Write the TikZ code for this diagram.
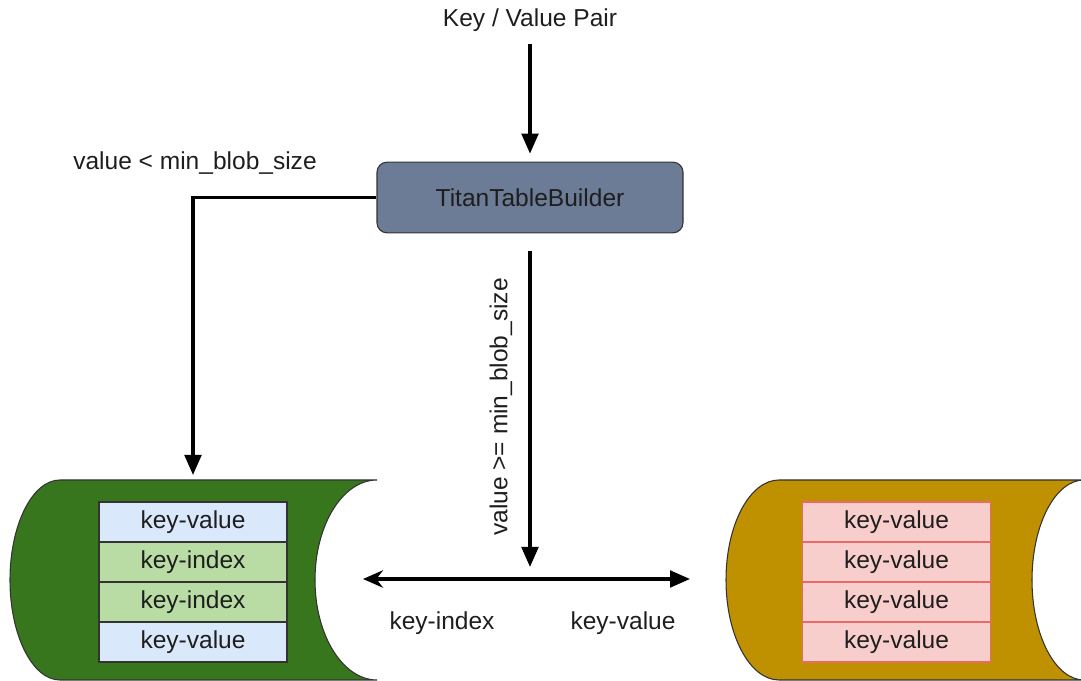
\documentclass[tikz,border=0pt]{standalone}
\usepackage{fontspec}
\setmainfont{Liberation Sans}
\usepackage{tikz}
\usetikzlibrary{arrows.meta, positioning}
\definecolor{buildfill}{RGB}{108,123,150}
\definecolor{cylgreen}{RGB}{56,118,29}
\definecolor{cylgold}{RGB}{191,144,0}
\definecolor{kvblue}{RGB}{218,232,252}
\definecolor{kigreen}{RGB}{185,220,165}
\definecolor{kvred}{RGB}{248,206,204}
\definecolor{kvredline}{RGB}{234,107,102}
\definecolor{edgegray}{RGB}{51,51,51}
\definecolor{textgray}{RGB}{30,30,30}
\tikzstyle{arrow} = [-{Triangle[length=15pt,width=12.5pt]}, line width=2.4pt, draw=black]
\tikzstyle{cell} = [draw=edgegray, line width=0.8pt, minimum width=141pt, minimum height=30pt, inner sep=0pt, outer sep=0pt]

\begin{document}
\begin{tikzpicture}[x=0.75pt, y=0.75pt, font=\fontsize{18.4}{22}\selectfont, text=textgray]
    \useasboundingbox (0,0) rectangle (1081,681);
    % storage files
    \draw[fill=cylgreen, draw=edgegray, line width=0.8pt] (60,201) -- (377,201)
    arc[start angle=90, end angle=270, x radius=46.5pt, y radius=75pt]
    -- (60,1) arc[start angle=270, end angle=90, x radius=37.5pt, y radius=75pt] -- cycle;
    \draw[fill=cylgold, draw=edgegray, line width=0.8pt] (779,201) -- (1084,201)
    arc[start angle=90, end angle=270, x radius=39pt, y radius=75pt]
    -- (779,1) arc[start angle=270, end angle=90, x radius=39.75pt, y radius=75pt] -- cycle;
    \foreach \s/\t [count=\i] in {kvblue/key-value, kigreen/key-index, kigreen/key-index, kvblue/key-value}
        \node[cell, fill=\s] (lrow\i) at (193,199-40*\i) {\t};
    \foreach \i in {1,...,4}
        \node[cell, fill=kvred, draw=kvredline] (rrow\i) at (896.5,199-40*\i) {key-value};
    % builder
    \node (kvp) at (530,661) {Key / Value Pair};
    \node[draw=edgegray, line width=0.8pt, fill=buildfill, rounded corners=7.5pt,
        minimum width=229.5pt, minimum height=53pt] (tb) at (530,483.5) {TitanTableBuilder};
    \coordinate (lin) at (193,206);
    \coordinate (fork) at (530,102);
    \coordinate (toidx) at (363,102);
    \coordinate (toval) at (690,102);
    \draw[arrow, shorten <=6pt, shorten >=6pt] (kvp) -- (tb);
    \draw[arrow] (tb.west) -| (lin);
    \draw[arrow, shorten <=13pt, shorten >=9pt] (tb.south) -- (fork);
    \draw[arrow, {Stealth[length=15pt,width=13pt,inset=5pt]}-{Triangle[length=15pt,width=12.5pt]}] (toidx) -- (toval);
    % labels
    \node (small) at (195,518) {value < min\_blob\_size};
    \node[rotate=90] (large) at (501,274) {value >= min\_blob\_size};
    \node (idxlbl) at (442,58) {key-index};
    \node (vallbl) at (623,58) {key-value};
\end{tikzpicture}
\end{document}
